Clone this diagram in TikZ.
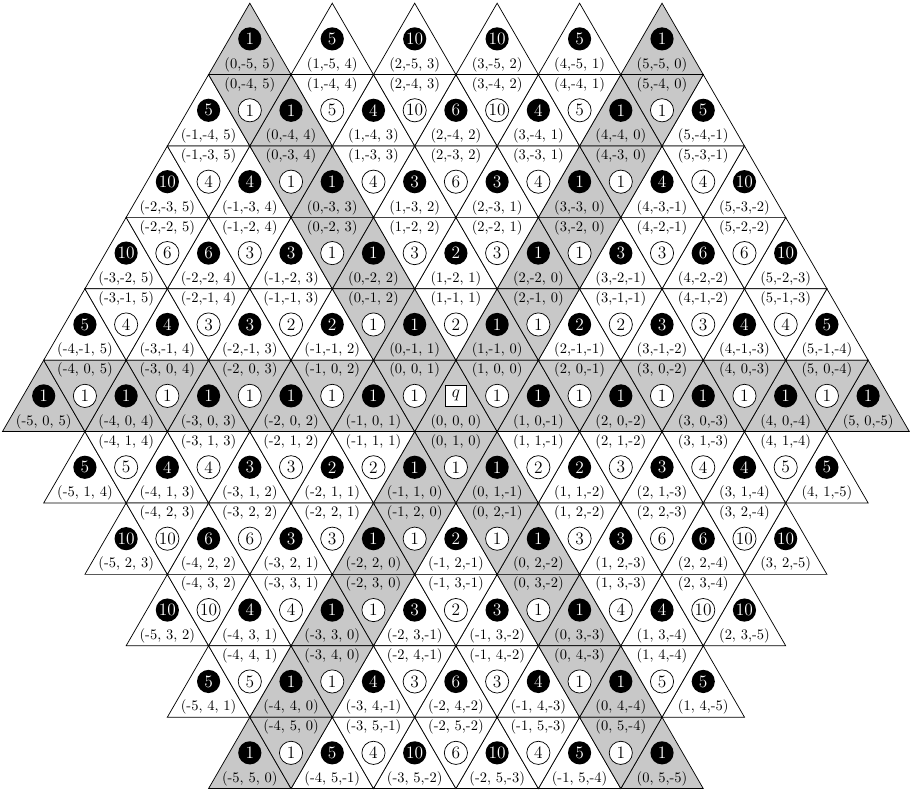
\documentclass[tikz,border=0pt]{standalone}
\usepackage{tikz}

\definecolor{zerogray}{RGB}{200,200,200}
\newcommand{\padnum}[1]{\ifnum#1<0 #1\else\ #1\fi}

\begin{document}
\begin{tikzpicture}[x=2cm, y=1.732cm,
    cell/.style={draw=black, line width=0.5pt},
    upval/.style={circle, fill=black, text=white, font=\large, minimum size=16pt, inner sep=0pt},
    downval/.style={circle, draw=black, line width=0.5pt, fill=white, font=\large, minimum size=16pt, inner sep=0pt},
    origin/.style={rectangle, draw=black, line width=0.5pt, fill=white, font=\large, minimum size=14pt, inner sep=0pt},
    coordlab/.style={inner sep=0pt}]
    \useasboundingbox (-0.03,-0.09) rectangle (11.02,11.045);
    \foreach \row in {0,...,10} {
        \pgfmathtruncatemacro{\off}{abs(\row-5)}
        \pgfmathtruncatemacro{\iup}{10-\off}
        \pgfmathtruncatemacro{\idn}{9-\off}
        \pgfmathtruncatemacro{\cb}{\row-5}
        \pgfmathtruncatemacro{\afirst}{-min(\row,5)}
        \pgfmathtruncatemacro{\ybot}{10-\row}
        % upward triangles: black value, coordinates at the base
        \foreach \i in {0,...,\iup} {
            \pgfmathsetmacro{\xl}{\off/2+\i}
            \pgfmathtruncatemacro{\ca}{\afirst+\i}
            \pgfmathtruncatemacro{\cc}{-(\ca)-(\cb)}
            \pgfmathtruncatemacro{\zr}{(\ca)*(\cb)*(\cc)==0}
            \pgfmathtruncatemacro{\orig}{abs(\ca)+abs(\cb)}
            \pgfmathtruncatemacro{\na}{((\ca)*(\cb)>=0) ? abs(\ca) : (((\ca)*(\cc)>=0) ? abs(\ca) : abs(\cb))}
            \pgfmathtruncatemacro{\nb}{((\ca)*(\cb)>=0) ? abs(\cb) : abs(\cc)}
            \pgfmathtruncatemacro{\val}{round(factorial(\na+\nb)/(factorial(\na)*factorial(\nb)))}
            \ifnum\zr=1 \def\fc{zerogray}\else\def\fc{white}\fi
            \filldraw[cell, fill=\fc] (\xl,\ybot) -- (\xl+1,\ybot) -- (\xl+0.5,\ybot+1) -- cycle;
            \ifnum\orig=0
                \node[origin] (up\row-\i) at (\xl+0.5,\ybot+0.5) {$q$};
            \else
                \node[upval] (up\row-\i) at (\xl+0.5,\ybot+0.5) {\val};
            \fi
            \node[coordlab] (ul\row-\i) at (\xl+0.5,\ybot+0.14) {(\ca,\padnum{\cb},\padnum{\cc})};
        }
        % downward triangles: white value, coordinates at the top
        \ifnum\row>0
        \foreach \i in {0,...,\idn} {
            \pgfmathsetmacro{\xl}{\off/2+0.5+\i}
            \pgfmathtruncatemacro{\ca}{\afirst+1+\i}
            \pgfmathtruncatemacro{\cc}{1-(\ca)-(\cb)}
            \pgfmathtruncatemacro{\zr}{(\ca)*(\cb)*(\cc)==0}
            \pgfmathtruncatemacro{\na}{((\ca)*(\cb)>=0) ? abs(\ca) : (((\ca)*(\cc)>=0) ? abs(\ca) : abs(\cb))}
            \pgfmathtruncatemacro{\nb}{((\ca)*(\cb)>=0) ? abs(\cb) : abs(\cc)}
            \pgfmathtruncatemacro{\val}{round(factorial(\na+\nb)/(factorial(\na)*factorial(\nb)))}
            \ifnum\zr=1 \def\fc{zerogray}\else\def\fc{white}\fi
            \filldraw[cell, fill=\fc] (\xl,\ybot+1) -- (\xl+1,\ybot+1) -- (\xl+0.5,\ybot) -- cycle;
            \node[downval] (dn\row-\i) at (\xl+0.5,\ybot+0.5) {\val};
            \node[coordlab] (dl\row-\i) at (\xl+0.5,\ybot+0.86) {(\ca,\padnum{\cb},\padnum{\cc})};
        }
        \fi
    }
\end{tikzpicture}
\end{document}
